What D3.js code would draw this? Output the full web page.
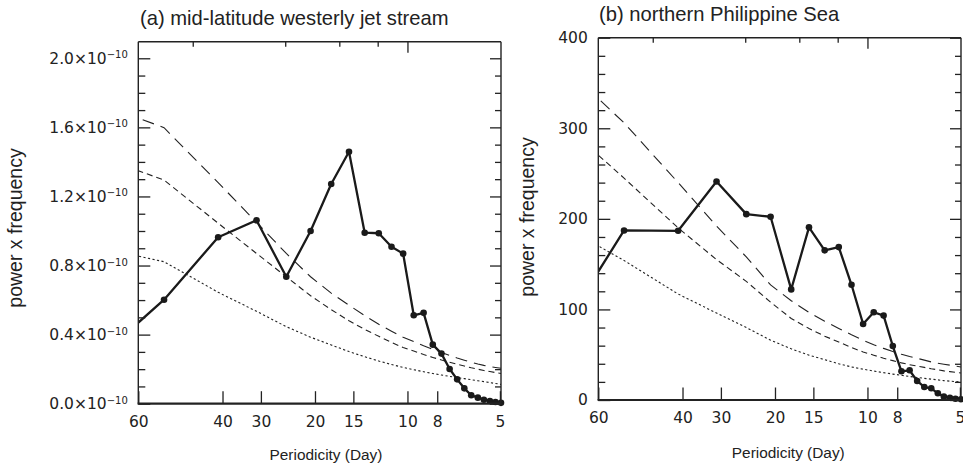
<!DOCTYPE html>
<html><head><meta charset="utf-8">
<script src="https://cdn.jsdelivr.net/npm/d3@7"></script>
<style>body{margin:0;background:#fff}</style>
</head><body><svg id="c" width="963" height="465"></svg>
<script>
// periods (days) of the spectral estimates
const periods = [124, 62, 41.33, 31, 24.8, 20.67, 17.71, 15.5, 13.78, 12.4, 11.27, 10.33, 9.54, 8.86, 8.27, 7.75, 7.29, 6.89, 6.53, 6.2, 5.9, 5.64, 5.39, 5.17, 4.96];

// (a) mid-latitude westerly jet stream, units of 1e-10
const jetPower = [0.127, 0.602, 0.964, 1.062, 0.735, 1.000, 1.272, 1.459, 0.990, 0.987, 0.909, 0.869, 0.512, 0.526, 0.342, 0.290, 0.201, 0.141, 0.089, 0.049, 0.035, 0.023, 0.016, 0.010, 0.005];
const jetRedNoise = [0.94, 0.822, 0.645, 0.535, 0.446, 0.385, 0.34, 0.302, 0.272, 0.247, 0.227, 0.21, 0.197, 0.185, 0.175, 0.166, 0.158, 0.151, 0.145, 0.139, 0.133, 0.128, 0.122, 0.117, 0.112];
const jetShortDash = [1.488, 1.295, 1.045, 0.87, 0.735, 0.625, 0.545, 0.48, 0.43, 0.39, 0.355, 0.325, 0.305, 0.285, 0.268, 0.253, 0.24, 0.228, 0.218, 0.208, 0.2, 0.192, 0.186, 0.18, 0.175];
const jetLongDash = [1.80, 1.598, 1.28, 1.05, 0.87, 0.735, 0.64, 0.57, 0.51, 0.46, 0.42, 0.385, 0.36, 0.335, 0.315, 0.297, 0.28, 0.265, 0.252, 0.24, 0.23, 0.222, 0.215, 0.21, 0.205];

// (b) northern Philippine Sea
const seaPower = [24.2, 187.2, 186.8, 241.3, 205.2, 202.3, 122.1, 190.6, 165.2, 168.8, 127.2, 83.9, 96.9, 93.2, 59.6, 31.7, 32.8, 21.0, 14.3, 12.9, 7.4, 3.7, 2.5, 1.4, 0.8];
const seaRedNoise = [212, 154, 117, 96, 80, 66, 56.5, 49.5, 44.5, 40, 36.5, 34, 32, 30.2, 28.6, 27.3, 26, 24.9, 23.9, 23, 22.2, 21.4, 20.8, 20.3, 19.9];
const seaShortDash = [336, 245, 190, 155, 131, 108, 90, 79, 70.5, 64, 58, 53, 49.5, 46, 43.5, 41, 39, 37.5, 36, 34.5, 33.3, 32.2, 31.3, 30.5, 29.8];
const seaLongDash = [402, 306, 240, 192, 158, 127, 109.6, 96.7, 87, 79, 72, 66, 61, 57, 53.5, 50.5, 48, 46, 44, 42, 40.5, 39.5, 38.5, 37.5, 36.5];

// axes
const xDomain = [75.2, 4.96];
const xTickValues = [75.2, 40, 30, 20, 15, 10, 8, 5];
const xTickLabels = ["60", "40", "30", "20", "15", "10", "8", "5"];
const topTickMinor = [50, 25, 16.667, 12.5];
const topTickMajor = [10];

const jetYMajor = [0, 0.4, 0.8, 1.2, 1.6, 2.0];
const jetYLabels = ["0.0", "0.4", "0.8", "1.2", "1.6", "2.0"];
const jetYMinor = [0.1, 0.2, 0.3, 0.5, 0.6, 0.7, 0.9, 1.0, 1.1, 1.3, 1.4, 1.5, 1.7, 1.8, 1.9];
const seaYMajor = [0, 100, 200, 300, 400];
const seaYLabels = ["0", "100", "200", "300", "400"];
const seaYMinor = [20, 40, 60, 80, 120, 140, 160, 180, 220, 240, 260, 280, 320, 340, 360, 380];

const titles = ["(a) mid-latitude westerly jet stream", "(b) northern Philippine Sea"];
const yTitle = "power x frequency";
const xTitle = "Periodicity (Day)";

const svg = d3.select("#c");
const TXT = "'Liberation Sans', Arial, sans-serif";
const NUM = "'DejaVu Sans', sans-serif";

function panel(cfg) {
  const g = svg.append("g");
  const x = d3.scaleLog().domain(xDomain).range([cfg.x0, cfg.x1]);
  const y = d3.scaleLinear().domain(cfg.yDomain).range([cfg.y1, cfg.y0]);
  const clipId = "clip" + cfg.id;
  svg.append("clipPath").attr("id", clipId).append("rect")
    .attr("x", cfg.x0).attr("y", cfg.y0).attr("width", cfg.x1 - cfg.x0).attr("height", cfg.y1 - cfg.y0);

  const line = d3.line().x((d, i) => x(periods[i])).y(d => y(d));
  const curves = [[cfg.red, "2.2,2.4", 1.1], [cfg.shortD, "6,4", 1.1], [cfg.longD, "12,7", 1.1]];
  curves.forEach(([vals, dash, w]) => {
    g.append("path").attr("d", line(vals)).attr("fill", "none").attr("stroke", "#222")
      .attr("stroke-width", w).attr("stroke-dasharray", dash).attr("clip-path", `url(#${clipId})`);
  });
  g.append("path").attr("d", line(cfg.power)).attr("fill", "none").attr("stroke", "#1a1a1a")
    .attr("stroke-width", 2.3).attr("stroke-linejoin", "round").attr("clip-path", `url(#${clipId})`);
  g.selectAll("circle.pt").data(cfg.power.map((v, i) => [periods[i], v]).filter(d => d[0] <= xDomain[0]))
    .join("circle").attr("cx", d => x(d[0])).attr("cy", d => y(d[1])).attr("r", 3.3).attr("fill", "#1a1a1a");

  // axes
  const style = sel => { sel.select(".domain").remove(); sel.selectAll("line").attr("stroke", "#222").attr("stroke-width", 1.3); };
  g.append("g").attr("transform", `translate(0,${cfg.y1})`)
    .call(d3.axisBottom(x).tickValues(xTickValues).tickFormat((d, i) => xTickLabels[i]).tickSizeInner(-12.5).tickSizeOuter(0).tickPadding(12))
    .call(style).call(s => s.selectAll("text").attr("font-family", NUM).attr("font-size", 15.5).attr("fill", "#222"));
  g.append("g").attr("transform", `translate(0,${cfg.y0})`)
    .call(d3.axisTop(x).tickValues(topTickMinor).tickFormat("").tickSizeInner(-5).tickSizeOuter(0)).call(style);
  g.append("g").attr("transform", `translate(0,${cfg.y0})`)
    .call(d3.axisTop(x).tickValues(topTickMajor).tickFormat("").tickSizeInner(-11).tickSizeOuter(0)).call(style);

  const la = g.append("g").attr("transform", `translate(${cfg.x0},0)`)
    .call(d3.axisLeft(y).tickValues(cfg.yMajor).tickSizeInner(-12).tickSizeOuter(0).tickPadding(10.5).tickFormat((d, i) => cfg.yLabels[i]))
    .call(style);
  la.selectAll("text").attr("font-family", NUM).attr("font-size", 15.5).attr("fill", "#222");
  if (cfg.sci) {
    la.selectAll("text").each(function() {
      const t = d3.select(this); const base = t.text();
      t.text("");
      t.append("tspan").text(base + "\u00d710");
      t.append("tspan").attr("dy", "-0.55em").attr("font-size", 10).text("\u221210");
    });
  }
  g.append("g").attr("transform", `translate(${cfg.x0},0)`)
    .call(d3.axisLeft(y).tickValues(cfg.yMinor).tickSizeInner(-7).tickSizeOuter(0).tickFormat("")).call(style);
  g.append("g").attr("transform", `translate(${cfg.x1},0)`)
    .call(d3.axisRight(y).tickValues(cfg.yMajor).tickSizeInner(-11).tickSizeOuter(0).tickFormat("")).call(style);
  g.append("g").attr("transform", `translate(${cfg.x1},0)`)
    .call(d3.axisRight(y).tickValues(cfg.yMinor).tickSizeInner(-6).tickSizeOuter(0).tickFormat("")).call(style);

  // frame
  const fr = g.append("g").attr("stroke", "#222").attr("fill", "none");
  fr.append("line").attr("x1", cfg.x0).attr("x2", cfg.x0).attr("y1", cfg.y0).attr("y2", cfg.y1).attr("stroke-width", 1.4);
  fr.append("line").attr("x1", cfg.x1).attr("x2", cfg.x1).attr("y1", cfg.y0).attr("y2", cfg.y1).attr("stroke-width", 1.4);
  fr.append("line").attr("x1", cfg.x0).attr("x2", cfg.x1).attr("y1", cfg.y0).attr("y2", cfg.y0).attr("stroke-width", 1.4);
  fr.append("line").attr("x1", cfg.x0 - 0.7).attr("x2", cfg.x1 + 0.7).attr("y1", cfg.y1).attr("y2", cfg.y1).attr("stroke-width", 2.2);

  // texts
  svg.append("text").attr("x", cfg.titleX).attr("y", cfg.titleY).attr("font-family", TXT).attr("font-size", 20.2).attr("fill", "#222").text(cfg.title);
  svg.append("text").attr("transform", `translate(${cfg.yTitleX},${cfg.yTitleY}) rotate(-90)`).attr("text-anchor", "middle")
    .attr("font-family", TXT).attr("font-size", 19.5).attr("fill", "#222").text(yTitle);
  svg.append("text").attr("x", cfg.xTitleX).attr("y", cfg.xTitleY).attr("text-anchor", "middle")
    .attr("font-family", TXT).attr("font-size", 15.4).attr("fill", "#222").text(xTitle);
}

panel({id: "a", x0: 138.3, x1: 501, y0: 41.7, y1: 403.7, yDomain: [0, 2.096],
  power: jetPower, red: jetRedNoise, shortD: jetShortDash, longD: jetLongDash,
  yMajor: jetYMajor, yLabels: jetYLabels, yMinor: jetYMinor, sci: true,
  title: titles[0], titleX: 140, titleY: 25, yTitleX: 22, yTitleY: 228, xTitleX: 326, xTitleY: 460});
panel({id: "b", x0: 598.3, x1: 961, y0: 37.7, y1: 400, yDomain: [0, 400],
  power: seaPower, red: seaRedNoise, shortD: seaShortDash, longD: seaLongDash,
  yMajor: seaYMajor, yLabels: seaYLabels, yMinor: seaYMinor, sci: false,
  title: titles[1], titleX: 599, titleY: 21, yTitleX: 534, yTitleY: 217, xTitleX: 788.3, xTitleY: 458});
</script></body></html>
